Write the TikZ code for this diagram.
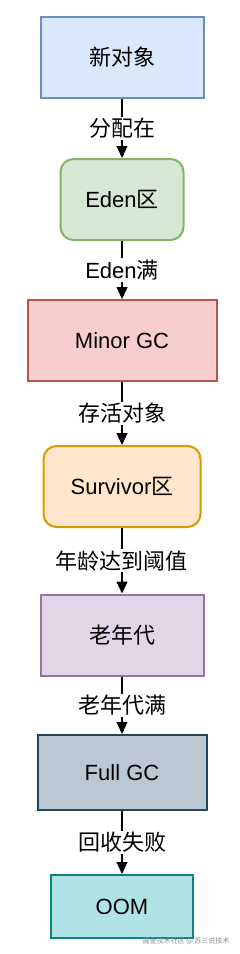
\documentclass[tikz,border=0pt]{standalone}
\usepackage{fontspec}
\setmainfont{Liberation Sans}
\newfontfamily\cjk{Noto Sans CJK SC}
\usetikzlibrary{arrows.meta}
\definecolor{blueFill}{HTML}{DAE8FC}\definecolor{blueLine}{HTML}{6C8EBF}
\definecolor{greenFill}{HTML}{D5E8D4}\definecolor{greenLine}{HTML}{82B366}
\definecolor{redFill}{HTML}{F8CECC}\definecolor{redLine}{HTML}{B85450}
\definecolor{orangeFill}{HTML}{FFE6CC}\definecolor{orangeLine}{HTML}{D79B00}
\definecolor{purpleFill}{HTML}{E1D5E7}\definecolor{purpleLine}{HTML}{9673A6}
\definecolor{slateFill}{HTML}{BAC8D3}\definecolor{slateLine}{HTML}{23445D}
\definecolor{tealFill}{HTML}{B0E3E6}\definecolor{tealLine}{HTML}{0E8088}
\begin{document}
\begin{tikzpicture}[x=1pt,y=-1pt,
  box/.style={draw,line width=2pt,minimum height=81pt,inner sep=0pt,font=\fontsize{22}{26}\selectfont},
  flow/.style={line width=1.2pt,-{Triangle[width=11pt,length=12pt]}},
  lbl/.style={fill=white,inner sep=1.5pt,font=\fontsize{22}{26}\selectfont}]
\useasboundingbox (0,0) rectangle (240,954);
\node[box,fill=blueFill,draw=blueLine,minimum width=163pt] (obj) at (122,57.5) {\cjk 新对象};
\node[box,fill=greenFill,draw=greenLine,minimum width=123pt,rounded corners=13pt] (eden) at (122,199.5) {Eden{\cjk 区}};
\node[box,fill=redFill,draw=redLine,minimum width=189pt] (minor) at (122,340.5) {Minor GC};
\node[box,fill=orangeFill,draw=orangeLine,minimum width=157pt,rounded corners=13pt] (surv) at (122,486.5) {Survivor{\cjk 区}};
\node[box,fill=purpleFill,draw=purpleLine,minimum width=163pt] (old) at (122,635) {\cjk 老年代};
\node[box,fill=slateFill,draw=slateLine,minimum width=169pt,minimum height=75pt] (full) at (122,772.5) {Full GC};
\node[box,fill=tealFill,draw=tealLine,minimum width=142pt,minimum height=63pt] (oom) at (122,906.5) {OOM};
\draw[flow] (obj) -- node[lbl] {\cjk 分配在} (eden);
\draw[flow] (eden) -- node[lbl] {Eden{\cjk 满}} (minor);
\draw[flow] (minor) -- node[lbl] {\cjk 存活对象} (surv);
\draw[flow] (surv) -- node[lbl] {\cjk 年龄达到阈值} (old);
\draw[flow] (old) -- node[lbl] {\cjk 老年代满} (full);
\draw[flow] (full) -- node[lbl] {\cjk 回收失败} (oom);
\node[text=black!45,font=\cjk\fontsize{7}{8}\selectfont,anchor=east] (mark) at (233,941) {掘金技术社区 @ 苏三说技术};
\end{tikzpicture}
\end{document}
